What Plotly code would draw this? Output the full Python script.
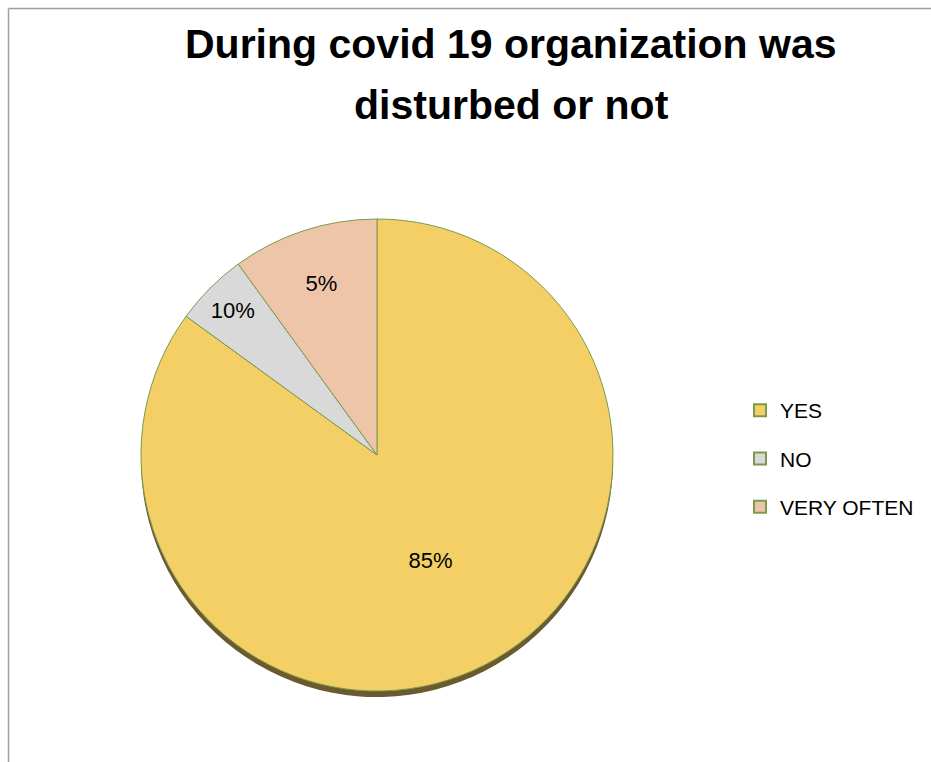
import plotly.graph_objects as go

# ---- data ----
categories = ["YES", "NO", "VERY OFTEN"]
values = [85, 5, 10]
slice_text = ["85%", "10%", "5%"]
colors = ["#F3CF66", "#D9D9D9", "#EFC5AA"]
title_lines = ["During covid 19 organization was", "disturbed or not"]

W, H = 931, 762
FONT = "Liberation Sans, Arial, sans-serif"
EDGE = "#7C9A4E"

# pie geometry (pixels -> paper fractions)
cx, cy, r = 377, 455, 236
shadow = 6

def dom(cx, cy, r):
    return dict(x=[(cx - r) / W, (cx + r) / W],
                y=[1 - (cy + r) / H, 1 - (cy - r) / H])

fig = go.Figure()

# shadow under the pie
fig.add_trace(go.Pie(
    labels=categories, values=values, sort=False, direction="clockwise",
    rotation=0, marker=dict(colors=["#6B5A2E"] * len(values),
                            line=dict(color="#6B5A2E", width=0)),
    textinfo="none", hoverinfo="skip", showlegend=False,
    domain=dom(cx, cy + shadow, r),
))

# main pie
fig.add_trace(go.Pie(
    labels=categories, values=values, text=slice_text, sort=False,
    direction="clockwise", rotation=0,
    marker=dict(colors=colors, line=dict(color=EDGE, width=1)),
    textinfo="text", textposition="inside", insidetextorientation="horizontal",
    textfont=dict(family=FONT, size=22, color="#000000"),
    hoverinfo="skip", showlegend=False,
    domain=dom(cx, cy, r),
))

# legend entries
for cat, col in zip(categories, colors):
    fig.add_trace(go.Scatter(
        x=[None], y=[None], mode="markers", name=cat, legendgroup=cat,
        marker=dict(symbol="square", size=13, color=col,
                    line=dict(color=EDGE, width=1.2)),
        hoverinfo="skip",
    ))

fig.update_layout(
    width=W, height=H,
    margin=dict(l=0, r=0, t=0, b=0),
    paper_bgcolor="white", plot_bgcolor="white",
    xaxis=dict(visible=False), yaxis=dict(visible=False),
    showlegend=True,
    legend=dict(
        x=740 / W, y=1 - 390 / H, xanchor="left", yanchor="top",
        font=dict(family=FONT, size=21, color="#000000"),
        tracegroupgap=18, itemsizing="constant",
        bgcolor="rgba(0,0,0,0)",
    ),
    annotations=[
        dict(text=title_lines[0], x=510.5 / W, y=1 - 44 / H, xref="paper", yref="paper",
             xanchor="center", yanchor="middle", showarrow=False,
             font=dict(family=FONT, size=41, color="#000000"), ),
        dict(text=title_lines[1], x=511 / W, y=1 - 105 / H, xref="paper", yref="paper",
             xanchor="center", yanchor="middle", showarrow=False,
             font=dict(family=FONT, size=41, color="#000000")),
    ],
    shapes=[
        dict(type="line", xref="paper", yref="paper", x0=8.5 / W, x1=1, y0=1 - 8.5 / H, y1=1 - 8.5 / H,
             line=dict(color="#A0A0A0", width=1.5)),
        dict(type="line", xref="paper", yref="paper", x0=8.5 / W, x1=8.5 / W, y0=0, y1=1 - 8.5 / H,
             line=dict(color="#A0A0A0", width=1.5)),
    ],
)
fig.update_annotations(font_weight="bold")

fig.write_html("out.html")
